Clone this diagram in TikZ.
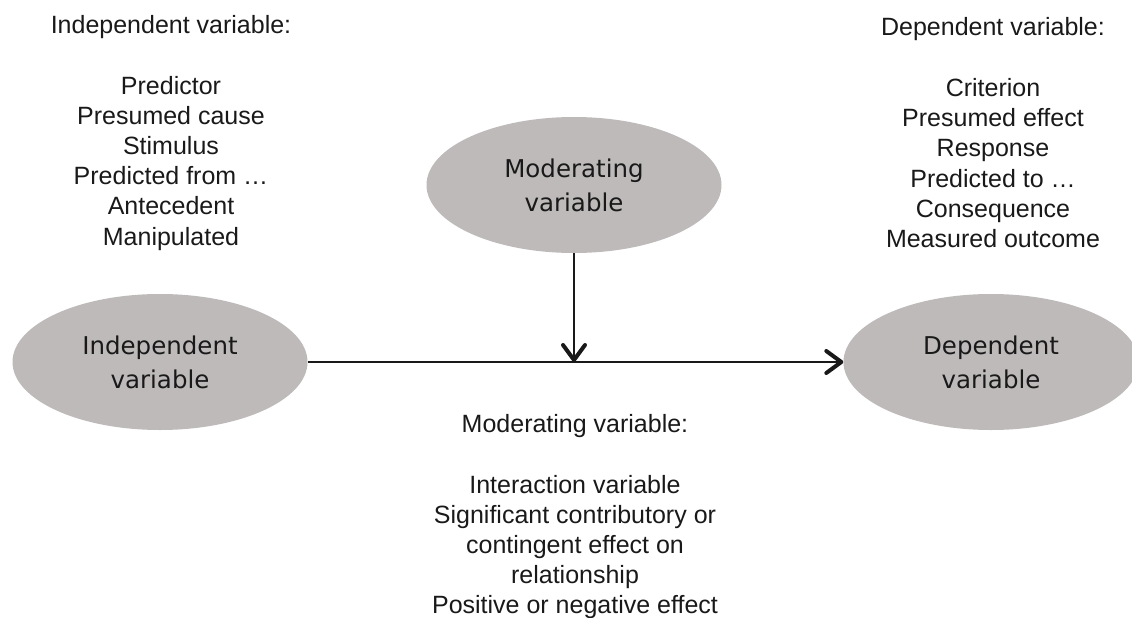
\documentclass[tikz,border=0pt]{standalone}
\usepackage{fontspec}
\setmainfont{Liberation Sans}
\newfontfamily\ellfont{DejaVu Sans}
\usetikzlibrary{arrows.meta,shapes.geometric}
\definecolor{ovalgray}{RGB}{190,186,186}
\definecolor{inkdark}{RGB}{25,25,25}
\begin{document}
\begin{tikzpicture}[x=1pt,y=-1pt,
  oval/.style={ellipse, fill=ovalgray, minimum width=295pt, minimum height=136pt,
    inner sep=0pt, align=center, font=\ellfont\fontsize{24.5}{34}\selectfont, text=inkdark},
  listtext/.style={anchor=north, inner sep=0pt, align=center,
    font=\fontsize{25}{30.2}\selectfont, text=inkdark},
  link/.style={line width=2.2pt, draw=inkdark,
    -{Straight Barb[length=15pt,width=22pt,line width=4pt,round]}}]
\useasboundingbox (0,0) rectangle (1132,618);

% the three variables
\node[oval] (ind) at (160,362) {Independent\\variable};
\node[oval] (mod) at (574,185) {Moderating\\variable};
\node[oval] (dep) at (991,362) {Dependent\\variable};

% main relation and the moderating influence on it
\coordinate (hit) at (mod |- ind);
\draw[link] (ind) -- (dep);
\draw[link] (mod) -- (hit);

% descriptive lists
\node[listtext] (indlist) at (171,15) {Independent variable:\\[30.5pt]
  Predictor\\ Presumed cause\\ Stimulus\\ Predicted from \ldots\\ Antecedent\\ Manipulated};
\node[listtext] (deplist) at (993,17) {Dependent variable:\\[31pt]
  Criterion\\ Presumed effect\\ Response\\ Predicted to \ldots\\ Consequence\\ Measured outcome};
\node[listtext] (modlist) at (575,414) {Moderating variable:\\[30.5pt]
  Interaction variable\\ Significant contributory or\\ contingent effect on\\ relationship\\
  Positive or negative effect};
\end{tikzpicture}
\end{document}
